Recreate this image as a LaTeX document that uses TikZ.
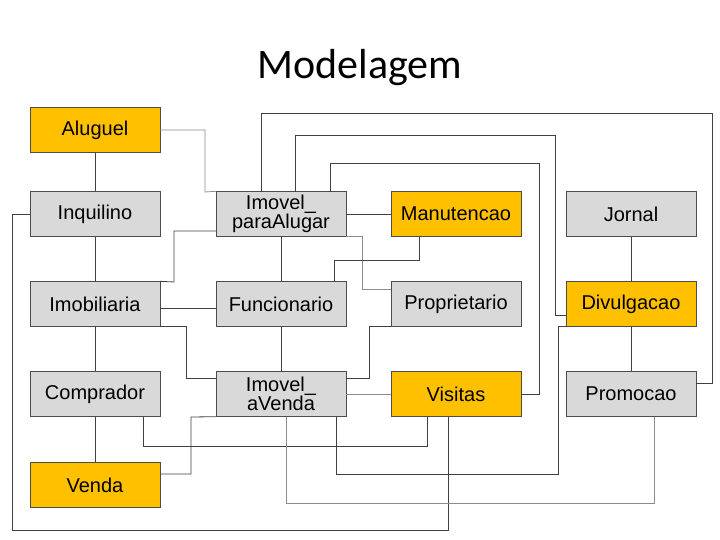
\documentclass[tikz,border=0pt]{standalone}
\usepackage{fontspec}
\setmainfont{Liberation Sans}
\newfontfamily\titlefont{Carlito}
\usetikzlibrary{positioning}
\definecolor{weakfill}{RGB}{255,192,0}
\tikzset{
  entity/.style={draw=black!70,fill=black!15,minimum width=130pt,minimum height=45pt,inner sep=1pt,
    text width=126pt,align=center,font=\fontsize{20}{19}\selectfont},
  weak/.style={entity,fill=weakfill},
  link/.style={black!75,line width=0.8pt},
  thin link/.style={black!45,line width=0.8pt}
}
\begin{document}
\begin{tikzpicture}[x=1pt,y=-1pt]
\useasboundingbox (0,0) rectangle (720,540);
\node[font=\titlefont\fontsize{42}{42}\selectfont] (title) at (360,68) {Modelagem};

% first column
\node[weak]   (Aluguel)     at (95,130) {Aluguel};
\node[entity] (Inquilino)   at (95,214) {Inquilino};
\node[entity] (Imobiliaria) at (95,304) {Imobiliaria};
\node[entity] (Comprador)   at (95,394) {Comprador};
\node[weak]   (Venda)       at (95,485) {Venda};
% second column
\node[entity] (ImovelAlugar) at (281,214) {Imovel\_\\paraAlugar};
\node[entity] (Funcionario)  at (281,304) {Funcionario};
\node[entity] (ImovelVenda)  at (281,394) {Imovel\_\\aVenda};
% third column
\node[weak]   (Manutencao)   at (456,214) {Manutencao};
\node[entity] (Proprietario) at (456,304) {Proprietario};
\node[weak]   (Visitas)      at (456,394) {Visitas};
% fourth column
\node[entity] (Jornal)     at (631,214) {Jornal};
\node[weak]   (Divulgacao) at (631,304) {Divulgacao};
\node[entity] (Promocao)   at (631,394) {Promocao};

% end points on the box borders
\coordinate (IPA1) at (261,192);
\coordinate (IPA2) at (295,192);
\coordinate (IPA3) at (330,192);
\coordinate (Man1) at (419,237);
\coordinate (Fun1) at (334,282);
\coordinate (Vis1) at (448,417);
\coordinate (Vis2) at (427,417);
\coordinate (Com1) at (143,417);
\coordinate (IAV1) at (336,417);
\coordinate (IAV2) at (286,417);
\coordinate (Pro1) at (654,417);

\draw[link] (Aluguel) -- (Inquilino);
\draw[link] (Inquilino) -- (Imobiliaria);
\draw[link] (Imobiliaria) -- (Comprador);
\draw[link] (Comprador) -- (Venda);
\draw[link] (Jornal) -- (Divulgacao);
\draw[link] (Divulgacao) -- (Promocao);
\draw[link] (ImovelAlugar) -- (Funcionario);
\draw[link] (Funcionario) -- (ImovelVenda);
\draw[link] (ImovelAlugar) -- (Manutencao);
\draw[link] (Imobiliaria.east |- 0,308) -- (Funcionario.west |- 0,308);

\draw[thin link] (Aluguel.east) -| (205,192) -- (ImovelAlugar.north west);
\draw[link] (IPA1) |- (712,113) |- (Promocao.east |- 0,383);
\draw[link] (IPA2) |- (555,135) |- (Divulgacao.west |- 0,315);
\draw[link] (IPA3) |- (539,163) |- (Visitas.east);
\draw[link] (ImovelAlugar.west |- 0,231) -| (174,282) -- (Imobiliaria.north east);
\draw[thin link] (ImovelAlugar.south east) -| (362,289) -- (Proprietario.west |- 0,289);
\draw[link] (Man1) |- (334,260) -- (Fun1);
\draw[link] (Inquilino.west) -| (12,530) -| (Vis1);
\draw[link] (Imobiliaria.south east) -| (186,378) -- (ImovelVenda.west |- 0,378);
\draw[link] (Proprietario.south west) -| (369,378) -- (ImovelVenda.east |- 0,378);
\draw[thin link] (ImovelVenda.east) -- (Visitas.west);
\draw[link] (Com1) |- (427,446) -- (Vis2);
\draw[link] (Venda.east |- 0,474) -| (191,417) -- (ImovelVenda.south west);
\draw[link] (IAV1) |- (558,474) |- (Divulgacao.south west);
\draw[thin link] (IAV2) |- (654,503) -- (Pro1);
\end{tikzpicture}
\end{document}
